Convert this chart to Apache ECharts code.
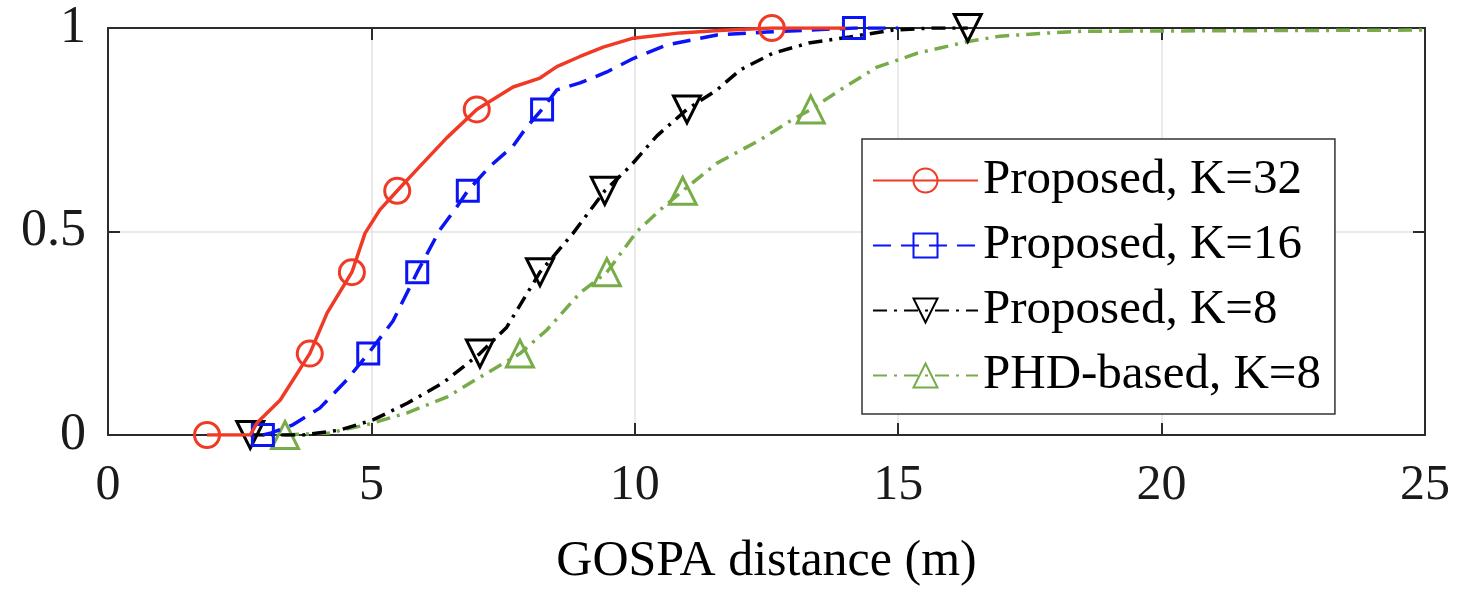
<!DOCTYPE html>
<html>
<head>
<meta charset="utf-8">
<script src="https://cdn.jsdelivr.net/npm/echarts@6/dist/echarts.min.js"></script>
<style>
html,body{margin:0;padding:0;background:#fff;}
#chart{width:1481px;height:597px;}
</style>
</head>
<body>
<div id="chart"></div>
<script>
// ---- data (x = GOSPA distance, y = CDF) ----
const seriesNames = ['Proposed, K=32', 'Proposed, K=16', 'Proposed, K=8', 'PHD-based, K=8'];
const xTicks = [0, 5, 10, 15, 20, 25];
const yTicks = [0, 0.5, 1];

// curve traces
const k32Curve = [[1.88,0],[2.7,0],[2.83,0.03],[3.27,0.086],[3.83,0.2],[4.16,0.30],[4.63,0.4],[4.88,0.496],[5.16,0.553],[5.49,0.6],[5.92,0.66],[6.43,0.73],[7.0,0.8],[7.69,0.855],[8.2,0.877],[8.52,0.905],[8.96,0.93],[9.4,0.953],[9.97,0.975],[10.86,0.988],[11.6,0.994],[12.6,1.0],[14.0,1.0]];
const k16Curve = [[2.94,0],[3.1,0.005],[3.51,0.025],[4.02,0.066],[4.53,0.135],[4.94,0.2],[5.41,0.28],[5.87,0.4],[6.3,0.504],[6.62,0.56],[6.83,0.6],[7.25,0.66],[7.69,0.71],[7.95,0.757],[8.24,0.8],[8.52,0.848],[8.96,0.865],[9.47,0.892],[9.97,0.925],[10.6,0.958],[11.56,0.983],[12.5,0.99],[14.16,1.0],[15.0,1.0]];
const k8Curve = [[2.7,0],[3.7,0],[4.4,0.012],[5.03,0.037],[5.68,0.078],[6.36,0.128],[7.06,0.2],[7.57,0.265],[8.2,0.4],[8.83,0.496],[9.43,0.6],[9.91,0.66],[10.42,0.735],[10.99,0.8],[11.56,0.848],[12.0,0.897],[12.62,0.938],[13.3,0.963],[14.08,0.978],[14.9,0.995],[15.66,1.0],[16.32,1.0]];
const phdCurve = [[3.36,0],[4.2,0.005],[4.9,0.025],[5.67,0.054],[6.43,0.093],[7.19,0.152],[7.82,0.2],[8.33,0.258],[8.96,0.349],[9.47,0.4],[10.04,0.5],[10.48,0.553],[10.91,0.6],[11.56,0.668],[12.38,0.725],[12.89,0.767],[13.34,0.8],[13.9,0.848],[14.6,0.904],[15.36,0.938],[16.3,0.966],[16.93,0.98],[17.88,0.988],[18.5,0.992],[25,0.995]];

// x positions (from the curves above) that carry a marker
const k32Markers = [1.88, 3.83, 4.63, 5.49, 7.0, 12.6];
const k16Markers = [2.94, 4.94, 5.87, 6.83, 8.24, 14.16];
const k8Markers  = [2.7, 7.06, 8.2, 9.43, 10.99, 16.32];
const phdMarkers = [3.36, 7.82, 9.47, 10.91, 13.34];

const FONT = 'Liberation Serif';

function build(curve, markers) {
  return curve.map(p => markers.indexOf(p[0]) >= 0 ? { value: p } : { value: p, symbol: 'none' });
}

const styles = [
  { color: '#f03a26', symbol: 'circle', size: 25, dash: 'solid' },
  { color: '#0a14f5', symbol: 'rect', size: 21, dash: [18, 10] },
  { color: '#000000', symbol: 'path://M0,0 L10,0 L5,10 Z', size: 27, dash: [14, 7, 3, 7] },
  { color: '#77ac48', symbol: 'triangle', size: 27, dash: [14, 7, 3, 7] }
];
const curves = [k32Curve, k16Curve, k8Curve, phdCurve];
const markerSets = [k32Markers, k16Markers, k8Markers, phdMarkers];

const series = seriesNames.map((name, i) => ({
  name: name,
  type: 'line',
  xAxisIndex: 0,
  yAxisIndex: 0,
  data: build(curves[i], markerSets[i]),
  symbol: styles[i].symbol,
  symbolSize: styles[i].size,
  symbolKeepAspect: true,
  showSymbol: true,
  showAllSymbol: true,
  smooth: false,
  lineStyle: { color: styles[i].color, width: 3.5, type: styles[i].dash },
  itemStyle: { color: 'rgba(0,0,0,0)', borderColor: styles[i].color, borderWidth: 3 },
  emphasis: { disabled: true },
  z: 10 - i
}));

const axisLineStyle = { color: '#2b2b2b', width: 2 };
const chart = echarts.init(document.getElementById('chart'));
chart.setOption({
  animation: false,
  grid: { left: 108, right: 56, top: 28, bottom: 162 },
  xAxis: [{
    type: 'value', min: 0, max: 25, interval: 5,
    name: 'GOSPA distance (m)', nameLocation: 'middle', nameGap: 102,
    nameTextStyle: { fontFamily: FONT, fontSize: 50, color: '#000' },
    axisLine: { show: true, onZero: false, lineStyle: axisLineStyle },
    axisTick: { show: true, inside: true, length: 12, lineStyle: axisLineStyle },
    axisLabel: { fontFamily: FONT, fontSize: 50, color: '#1a1a1a', margin: 26,
      formatter: v => xTicks.indexOf(v) >= 0 ? String(v) : '' },
    splitLine: { show: true, lineStyle: { color: '#e3e3e3', width: 1.5 } }
  }, {
    type: 'value', min: 0, max: 25, interval: 5, position: 'top',
    axisLine: { show: true, onZero: false, lineStyle: axisLineStyle },
    axisTick: { show: true, inside: true, length: 12, lineStyle: axisLineStyle },
    axisLabel: { show: false }, splitLine: { show: false }
  }],
  yAxis: [{
    type: 'value', min: 0, max: 1, interval: 0.5,
    axisLine: { show: true, onZero: false, lineStyle: axisLineStyle },
    axisTick: { show: true, inside: true, length: 12, lineStyle: axisLineStyle },
    axisLabel: { fontFamily: FONT, fontSize: 52, color: '#1a1a1a', margin: 22,
      formatter: v => yTicks.indexOf(v) >= 0 ? String(v) : '' },
    splitLine: { show: true, lineStyle: { color: '#e3e3e3', width: 1.5 } }
  }, {
    type: 'value', min: 0, max: 1, interval: 0.5, position: 'right',
    axisLine: { show: true, onZero: false, lineStyle: axisLineStyle },
    axisTick: { show: true, inside: true, length: 12, lineStyle: axisLineStyle },
    axisLabel: { show: false }, splitLine: { show: false }
  }],
  legend: {
    data: seriesNames,
    left: 862, top: 139,
    orient: 'vertical',
    backgroundColor: '#fff',
    borderColor: '#333',
    borderWidth: 1.5,
    borderRadius: 0,
    padding: [14, 14, 11, 10],
    itemGap: 10,
    itemWidth: 105,
    itemHeight: 30,
    selectedMode: false,
    textStyle: { fontFamily: FONT, fontSize: 49, color: '#000', lineHeight: 55 }
  },
  series: series
});
</script>
</body>
</html>
